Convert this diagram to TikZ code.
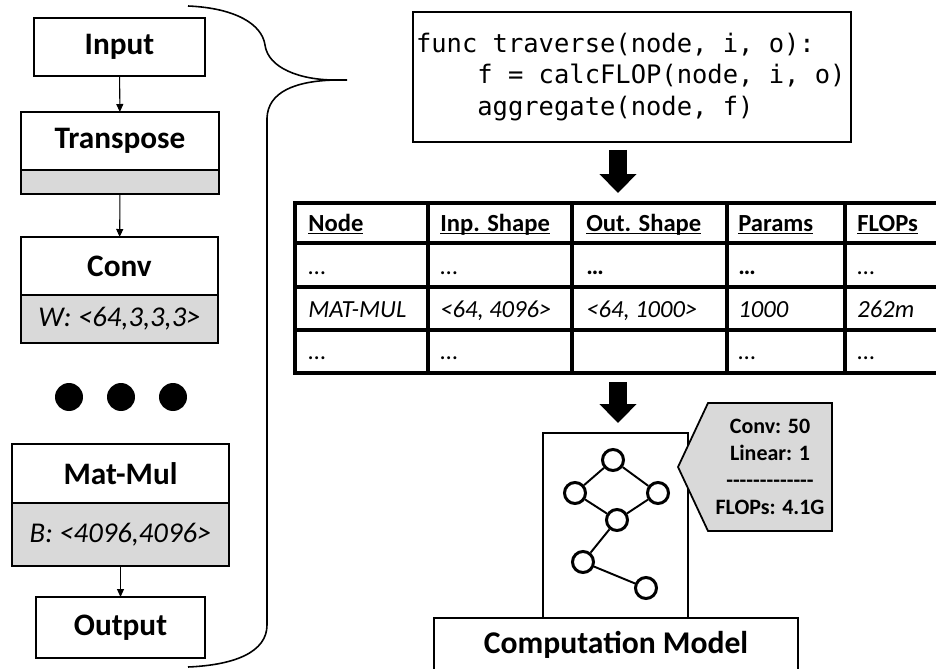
\documentclass[tikz,border=0pt]{standalone}
\usepackage{fontspec}
\setmainfont{Carlito}
\newfontfamily\codefont{DejaVu Sans Mono}
\usetikzlibrary{arrows.meta}
\usetikzlibrary{positioning}

% underline that sits just under the baseline
\newcommand{\colhead}[1]{\setbox0\hbox{\textbf{#1}}\rlap{\rule[-1.7pt]{\wd0}{0.8pt}}\box0}
% a hyphen that does not join its neighbours into dashes
\newcommand{\hy}{-\kern0pt}
% one character wide blank for the code
\newcommand{\ws}{\phantom{x}}

\tikzset{
  layer/.style={draw, line width=1.1pt, inner sep=0pt, outer sep=0pt, font=\fontsize{17.8}{21}\selectfont\bfseries},
  field/.style={draw, line width=1.1pt, fill=gray!30, inner sep=0pt, outer sep=0pt, font=\fontsize{16.3}{19}\selectfont\itshape},
  flow/.style={line width=0.6pt, -{Triangle[length=0.16cm,width=0.14cm]}},
  bigarrow/.style={line width=0.36cm, -{Triangle[length=0.38cm,width=0.72cm]}},
  tabline/.style={line width=1.8pt},
  cell/.style={anchor=base west, inner sep=0pt, font=\fontsize{14}{17}\selectfont},
  gnode/.style={circle, draw, line width=1.7pt, minimum size=0.42cm, inner sep=0pt},
}

\begin{document}
\begin{tikzpicture}[x=0.02cm,y=-0.02cm]
\useasboundingbox (0,0) rectangle (936,669);

% layer stack
\node[layer, minimum width=3.42cm, minimum height=1.16cm] (inp) at (119.5,47) {Input};
\node[layer, minimum width=3.96cm, minimum height=1.16cm] (trans) at (120,141) {Transpose};
\node[field, minimum width=3.96cm, minimum height=0.48cm, below=0pt of trans] (transw) {};
\node[layer, minimum width=3.94cm, minimum height=1.16cm] (conv) at (119.5,266) {Conv};
\node[field, minimum width=3.94cm, minimum height=0.96cm, below=0pt of conv] (convw) {W: <64,3,3,3>};
\node[layer, minimum width=4.34cm, minimum height=1.18cm] (mm) at (120.5,473.5) {Mat-Mul};
\node[field, minimum width=4.34cm, minimum height=1.26cm, below=0pt of mm] (mmw) {B: <4096,4096>};
\node[layer, minimum width=3.38cm, minimum height=1.22cm] (outp) at (120.5,627.5) {Output};
\draw[flow] (inp) -- (trans);
\draw[flow] (transw) -- (conv);
\draw[flow] (mmw) -- (outp);
\foreach \i/\x in {1/69,2/121,3/173}
  \node[circle, fill=black, minimum size=0.56cm, inner sep=0pt] (dot\i) at (\x,397) {};

% brace
\draw[line width=0.9pt] (188,6) .. controls (235,8) and (262,24) .. (265,45) .. controls (268,68) and (300,80) .. (335,80) -- (347,80);
\draw[line width=0.9pt] (335,80) .. controls (295,81) and (268,92) .. (267,118) -- (267,625) .. controls (267,652) and (235,665) .. (188,667);

% code
\node[draw, line width=1.1pt, inner xsep=0.06cm, inner ysep=0pt, outer sep=0pt, text width=8.64cm, minimum height=2.6cm, align=left,
  font=\codefont\fontsize{14.5}{18}\selectfont] (code) at (632,77)
  {func\ws traverse(node,\ws i,\ws o):\\
   \ws\ws\ws\ws f\ws=\ws calcFLOP(node,\ws i,\ws o)\\
   \ws\ws\ws\ws aggregate(node,\ws f)};

% table
\draw[tabline] (936,203) -- (295,203) -- (295,373) -- (936,373);
\foreach \x in {428,572,727,845} \draw[tabline] (\x,203) -- (\x,373);
\foreach \y in {243,287,330} \draw[tabline] (295,\y) -- (936,\y);
\node[cell] (h1) at (308,231) {\colhead{Node}};
\node[cell] (h2) at (440,231) {\colhead{Inp. Shape}};
\node[cell] (h3) at (586,231) {\colhead{Out. Shape}};
\node[cell] (h4) at (738,231) {\colhead{Params}};
\node[cell] (h5) at (857,231) {\colhead{FLOPs}};
\node[cell] (a1) at (308,274) {…};
\node[cell] (a2) at (440,274) {…};
\node[cell] (a3) at (586,274) {\textbf{…}};
\node[cell] (a4) at (738,274) {\textbf{…}};
\node[cell] (a5) at (857,274) {…};
\node[cell] (b1) at (308,317) {\itshape MAT-MUL};
\node[cell] (b2) at (440,317) {\itshape <64, 4096>};
\node[cell] (b3) at (586,317) {\itshape <64, 1000>};
\node[cell] (b4) at (738,317) {\itshape 1000};
\node[cell] (b5) at (857,317) {\itshape 262m};
\node[cell] (c1) at (308,359) {…};
\node[cell] (c2) at (440,359) {…};
\node[cell] (c4) at (738,359) {…};
\node[cell] (c5) at (857,359) {…};
\coordinate (tabtop) at (618,203);
\coordinate (tabbot) at (618,373);

% model
\node[draw, line width=0.9pt, minimum width=2.9cm, minimum height=3.7cm, inner sep=0pt, outer sep=0pt] (gbox) at (615.5,525.5) {};
\node[gnode] (g1) at (613,460) {};
\node[gnode] (g2) at (575,493) {};
\node[gnode] (g3) at (658,493) {};
\node[gnode] (g4) at (617,520) {};
\node[gnode] (g5) at (583,562) {};
\node[gnode] (g6) at (646,588) {};
\foreach \a/\b in {g1/g2,g1/g3,g2/g4,g3/g4,g4/g5,g5/g6}
  \draw[line width=1.1pt] (\a) -- (\b);
\draw[line width=1.1pt] (434,669) -- (434,618) -- (798,618) -- (798,669);
\node[font=\fontsize{18}{21}\selectfont\bfseries] (cmodel) at (616,645) {Computation Model};
\draw[line width=1pt, fill=gray!30] (708,403) -- (832,403) -- (832,531) -- (708,531) -- (678,467) -- cycle;
\node[align=center, inner sep=0pt, font=\fontsize{12.5}{15.3}\selectfont\bfseries] (stats) at (770,467)
  {Conv: 50\\Linear: 1\\\hy\hy\hy\hy\hy\hy\hy\hy\hy\hy\hy\hy\hy\\FLOPs: 4.1G};

\draw[bigarrow, shorten <=0.16cm, shorten >=0.2cm] (code.south -| tabtop) -- (tabtop);
\draw[bigarrow, shorten <=0.18cm, shorten >=0.2cm] (tabbot) -- (tabbot |- gbox.north);

\end{tikzpicture}
\end{document}
